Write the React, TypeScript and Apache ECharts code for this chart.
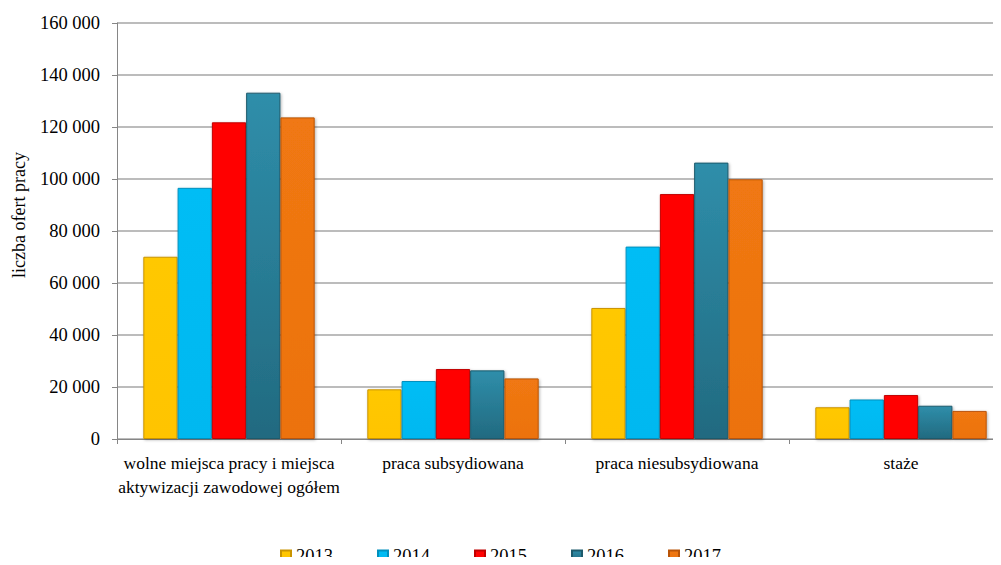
import React, { useEffect, useRef } from "react";
import * as echarts from "echarts";

const categories = [
  "wolne miejsca pracy i miejsca\naktywizacji zawodowej ogółem",
  "praca subsydiowana",
  "praca niesubsydiowana",
  "staże",
];
const years = ["2013", "2014", "2015", "2016", "2017"];
const v2013 = [70100, 19100, 50400, 12200];
const v2014 = [96600, 22300, 74000, 15200];
const v2015 = [121800, 26900, 94200, 16900];
const v2016 = [133200, 26400, 106300, 12800];
const v2017 = [123700, 23300, 99900, 10800];
const yTicks = [0, 20000, 40000, 60000, 80000, 100000, 120000, 140000, 160000];
const yAxisTitle = "liczba ofert pracy";

const palette = [
  { top: "#ffc800", bottom: "#ffc400", border: "#c99400" },
  { top: "#00bdf5", bottom: "#00b8f0", border: "#0090bd" },
  { top: "#ff0505", bottom: "#ff0000", border: "#c00000" },
  { top: "#2f8eaa", bottom: "#226a80", border: "#1d5a6c" },
  { top: "#f07812", bottom: "#ec720f", border: "#b95408" },
];

export default function App() {
  const ref = useRef<HTMLDivElement>(null);
  useEffect(() => {
    const chart = echarts.init(ref.current!, undefined, { renderer: "svg" });
    const data = [v2013, v2014, v2015, v2016, v2017];
    const font = "Liberation Serif";
    chart.setOption({
      animation: false,
      textStyle: { fontFamily: font },
      grid: {
        left: 117,
        width: 896,
        top: 23,
        height: 416,
        containLabel: false,
        outerBoundsMode: "none",
      },
      graphic: [
        {
          type: "text",
          x: 19,
          y: 215,
          rotation: Math.PI / 2,
          style: {
            text: yAxisTitle,
            font: "18px Liberation Serif",
            fill: "#000",
            align: "center",
            verticalAlign: "middle",
          },
        },
      ],
      legend: {
        left: "center",
        top: 546,
        padding: 0,
        itemWidth: 10,
        itemHeight: 10,
        itemGap: 44,
        icon: "rect",
        textStyle: { fontFamily: font, fontSize: 18.5, color: "#000" },
        data: years,
      },
      xAxis: {
        type: "category",
        data: categories,
        axisLine: { lineStyle: { color: "#868686", width: 1 } },
        axisTick: { show: true, length: 5, lineStyle: { color: "#868686" } },
        axisLabel: {
          color: "#000",
          fontSize: 17.5,
          fontFamily: font,
          margin: 12,
          lineHeight: 24,
          interval: 0,
        },
      },
      yAxis: {
        type: "value",
        min: 0,
        max: 160000,
        interval: 20000,
        axisLine: { show: true, lineStyle: { color: "#868686", width: 1 } },
        axisTick: { show: true, length: 5, lineStyle: { color: "#868686" } },
        splitLine: { lineStyle: { color: "#a6a6a6", width: 1.5 } },
        axisLabel: {
          color: "#000",
          fontSize: 18.5,
          fontFamily: font,
          margin: 17,
          formatter: (v: number) =>
            yTicks.includes(v) ? String(v).replace(/\B(?=(\d{3})+(?!\d))/g, " ") : "",
        },
      },
      series: years.map((y, i) => ({
        name: y,
        type: "bar",
        data: data[i],
        barGap: "0%",
        barCategoryGap: "23.5%",
        itemStyle: {
          color: new echarts.graphic.LinearGradient(0, 0, 0, 1, [
            { offset: 0, color: palette[i].top },
            { offset: 1, color: palette[i].bottom },
          ]),
          borderColor: palette[i].border,
          borderWidth: 1,
          shadowColor: "rgba(0,0,0,0.3)",
          shadowBlur: 3,
          shadowOffsetX: 1,
          shadowOffsetY: 1,
        },
      })),
    });
    return () => chart.dispose();
  }, []);
  return <div ref={ref} style={{ width: 1001, height: 565, margin: -8 }} />;
}
